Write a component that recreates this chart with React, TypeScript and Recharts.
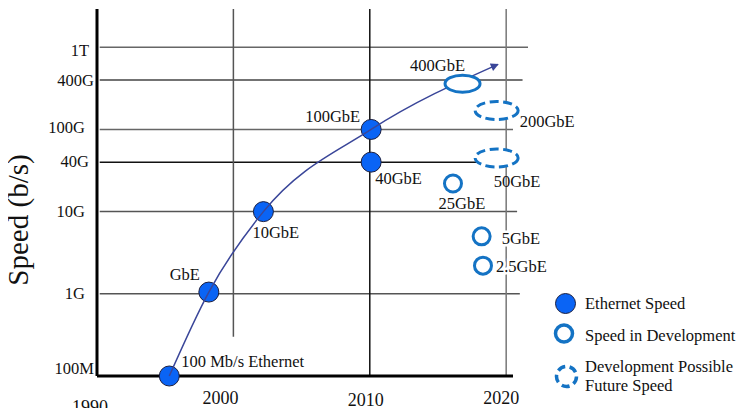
import React from "react";
import {
  ComposedChart,
  Legend,
  Line,
  ReferenceLine,
  Scatter,
  XAxis,
  YAxis,
} from "recharts";

// Ethernet speeds (year, b/s)
const ethernetNames = ["100 Mb/s Ethernet", "GbE", "10GbE", "100GbE", "40GbE"];
const ethernetYears = [1995.3, 1998.2, 2002.2, 2010.1, 2010.1];
const ethernetSpeeds = [1e8, 1.05e9, 1e10, 1e11, 4e10];

const devNames = ["400GbE", "25GbE", "5GbE", "2.5GbE"];
const devYears = [2016.8, 2016.1, 2018.2, 2018.3];
const devSpeeds = [3.6e11, 2.2e10, 5e9, 2.2e9];

const futureNames = ["200GbE", "50GbE"];
const futureYears = [2019.3, 2019.3];
const futureSpeeds = [1.7e11, 4.5e10];

const trendYears = [1995.3, 1998.2, 2002.2, 2010.1, 2019.4];
const trendSpeeds = [1e8, 1.05e9, 1e10, 1e11, 6.2e11];

const yTickValues = [1e8, 1e9, 1e10, 4e10, 1e11, 4e11, 1e12];
const yTickLabels = ["100M", "1G", "10G", "40G", "100G", "400G", "1T"];
const xTickValues = [1990, 2000, 2010, 2020];

const seriesNames = ["Ethernet Speed", "Speed in Development", "Development Possible Future Speed"];

const toPoints = (names: string[], years: number[], speeds: number[]) =>
  years.map((year, i) => ({ name: names[i], year, speed: speeds[i] }));

const ethernetPoints = toPoints(ethernetNames, ethernetYears, ethernetSpeeds);
const devPoints = toPoints(devNames, devYears, devSpeeds);
const futurePoints = toPoints(futureNames, futureYears, futureSpeeds);
const trendPoints = toPoints([], trendYears, trendSpeeds);

const Y_TOP = 2.92e12;
const FONT = "Liberation Serif, Times New Roman, serif";
const FILL_BLUE = "#0a64f5";
const DEV_BLUE = "#1473c4";

// styling: where the grid lines stop and how dark they are
const hGridStyle: Record<string, { end: number; color: string }> = {
  "1G": { end: 2021.0, color: "#555" },
  "10G": { end: 2020.8, color: "#555" },
  "40G": { end: 2020.5, color: "#111" },
  "100G": { end: 2020.5, color: "#666" },
  "400G": { end: 2021.2, color: "#444" },
  "1T": { end: 2021.6, color: "#666" },
};
const vGridStyle: Record<number, { from: number; color: string }> = {
  2000: { from: 3e8, color: "#555" },
  2010: { from: 1e8, color: "#111" },
  2020: { from: 1e8, color: "#777" },
};

const yTickOffset: Record<string, { dx: number; dy: number }> = {
  "100M": { dx: -3, dy: -8 },
  "1G": { dx: -12, dy: 0 },
  "10G": { dx: -12, dy: 0 },
  "40G": { dx: -8, dy: -1 },
  "100G": { dx: -12, dy: -2 },
  "400G": { dx: -3, dy: 1 },
  "1T": { dx: -8, dy: 3 },
};
const xTickOffset: Record<number, { dx: number; dy: number }> = {
  1990: { dx: -7, dy: 31 },
  2000: { dx: -13, dy: 22 },
  2010: { dx: -4, dy: 24 },
  2020: { dx: -5, dy: 22 },
};

const labelOffset: Record<string, { dx: number; dy: number; anchor: string; halo?: boolean }> = {
  "100 Mb/s Ethernet": { dx: 12, dy: -15, anchor: "start" },
  GbE: { dx: -24, dy: -18, anchor: "middle" },
  "10GbE": { dx: -11, dy: 21, anchor: "start" },
  "100GbE": { dx: -11, dy: -13, anchor: "end" },
  "40GbE": { dx: 4, dy: 16, anchor: "start" },
  "400GbE": { dx: -25, dy: -18, anchor: "middle" },
  "25GbE": { dx: 9, dy: 20, anchor: "middle" },
  "5GbE": { dx: 20, dy: 2, anchor: "start", halo: true },
  "2.5GbE": { dx: 13, dy: 1, anchor: "start", halo: true },
  "200GbE": { dx: 23, dy: 11, anchor: "start" },
  "50GbE": { dx: -3, dy: 24, anchor: "start" },
};

function PointLabel({ cx, cy, name }: { cx: number; cy: number; name: string }) {
  const o = labelOffset[name];
  if (!o) return null;
  return (
    <text
      x={cx + o.dx}
      y={cy + o.dy}
      textAnchor={o.anchor as any}
      dominantBaseline="central"
      fontFamily={FONT}
      fontSize={16.5}
      fill="#111"
      stroke={o.halo ? "#fff" : "none"}
      strokeWidth={o.halo ? 5 : 0}
      paintOrder="stroke"
    >
      {name}
    </text>
  );
}

const EthernetShape = (p: any) => (
  <g>
    <circle cx={p.cx} cy={p.cy} r={10} fill={FILL_BLUE} stroke="#1c1f3f" strokeWidth={1} />
    <PointLabel cx={p.cx} cy={p.cy} name={p.payload.name} />
  </g>
);

const DevShape = (p: any) => {
  const wide = p.payload.name === "400GbE";
  return (
    <g>
      <ellipse cx={p.cx} cy={p.cy} rx={wide ? 17.5 : 8.5} ry={8.5} fill="#fff" stroke={DEV_BLUE} strokeWidth={3} />
      <PointLabel cx={p.cx} cy={p.cy} name={p.payload.name} />
    </g>
  );
};

const FutureShape = (p: any) => (
  <g>
    <ellipse cx={p.cx} cy={p.cy} rx={21.5} ry={9} fill="#fff" stroke={DEV_BLUE} strokeWidth={3} strokeDasharray="9 4.5" />
    <PointLabel cx={p.cx} cy={p.cy} name={p.payload.name} />
  </g>
);

const YTick = (p: any) => {
  const i = yTickValues.indexOf(p.payload.value);
  const label = yTickLabels[i];
  const o = yTickOffset[label] || { dx: -8, dy: 0 };
  return (
    <text x={p.x + o.dx} y={p.y + o.dy} textAnchor="end" dominantBaseline="central" fontFamily={FONT} fontSize={16.5} fill="#111">
      {label}
    </text>
  );
};

const XTick = (p: any) => {
  const o = xTickOffset[p.payload.value] || { dx: 0, dy: 22 };
  return (
    <text x={p.x + o.dx} y={p.y + o.dy} textAnchor="middle" dominantBaseline="central" fontFamily={FONT} fontSize={18} fill="#111">
      {p.payload.value}
    </text>
  );
};

const YLabel = (p: any) => {
  const vb = p.viewBox || { x: 0, y: 9 };
  const x = vb.x + 28;
  const y = vb.y + 211;
  return (
    <text x={x} y={y} transform={`rotate(-90, ${x}, ${y})`} textAnchor="middle" fontFamily={FONT} fontSize={29} fill="#111">
      Speed (b/s)
    </text>
  );
};

function LegendIcon({ kind }: { kind: number }) {
  if (kind === 0) return <circle cx={0} cy={0} r={10} fill={FILL_BLUE} stroke="#1c1f3f" strokeWidth={1} />;
  if (kind === 1) return <circle cx={0} cy={0} r={8.5} fill="#fff" stroke={DEV_BLUE} strokeWidth={3.5} />;
  return <circle cx={0} cy={0} r={10} fill="#fff" stroke={DEV_BLUE} strokeWidth={3.5} strokeDasharray="8 4.5" />;
}

const legendRows = [
  { icon: [15.5, 13.5], text: [13] },
  { icon: [14, 43.5], text: [45] },
  { icon: [16.5, 86.5], text: [76, 95] },
];

const LegendContent = (props: any) => {
  const items = (props.payload || []).filter((e: any) => seriesNames.includes(e.value));
  return (
    <svg width={200} height={110} style={{ display: "block" }}>
      {items.map((e: any) => {
        const k = seriesNames.indexOf(e.value);
        const row = legendRows[k];
        const words = String(e.value).split(" ");
        const lines = row.text.length > 1 ? [words.slice(0, 2).join(" "), words.slice(2).join(" ")] : [e.value];
        return (
          <g key={e.value}>
            <g transform={`translate(${row.icon[0]}, ${row.icon[1]})`}>
              <LegendIcon kind={k} />
            </g>
            {lines.map((t: string, j: number) => (
              <text key={j} x={35} y={row.text[j]} dominantBaseline="central" fontFamily={FONT} fontSize={16.5} fill="#111">
                {t}
              </text>
            ))}
          </g>
        );
      })}
    </svg>
  );
};

export default function App() {
  return (
    <div style={{ position: "relative", width: 751, height: 416, margin: -8, background: "#fff", fontFamily: FONT }}>
      <svg width={0} height={0} style={{ position: "absolute" }}>
        <defs>
          <marker id="arrowHead" viewBox="0 0 10 10" refX={9} refY={5} markerWidth={11} markerHeight={8} markerUnits="userSpaceOnUse" orient="auto">
            <path d="M0,0 L10,5 L0,10 z" fill="#3a4699" />
          </marker>
        </defs>
      </svg>
      <ComposedChart width={751} height={416} margin={{ top: 9, right: 238, bottom: 0, left: 0 }}>
        <XAxis
          dataKey="year"
          type="number"
          domain={[1990, 2020.5]}
          ticks={xTickValues}
          interval={0}
          tick={XTick}
          tickLine={false}
          tickSize={0}
          tickMargin={0}
          height={40}
          axisLine={{ stroke: "#000", strokeWidth: 3 }}
        />
        <YAxis
          type="number"
          scale="log"
          domain={[1e8, Y_TOP]}
          ticks={yTickValues}
          interval={0}
          tick={YTick}
          tickLine={false}
          tickSize={0}
          tickMargin={0}
          width={97}
          axisLine={{ stroke: "#000", strokeWidth: 3 }}
          label={<YLabel />}
        />
        {yTickValues.slice(1).map((v, i) => {
          const s = hGridStyle[yTickLabels[i + 1]];
          return (
            <ReferenceLine
              key={"h" + v}
              segment={[{ x: 1990.2, y: v }, { x: s.end, y: v }]}
              stroke={s.color}
              strokeWidth={1.5}
              ifOverflow="visible"
              zIndex={-50}
            />
          );
        })}
        {xTickValues.slice(1).map((v) => {
          const s = vGridStyle[v];
          return (
            <ReferenceLine
              key={"v" + v}
              segment={[{ x: v, y: s.from }, { x: v, y: Y_TOP }]}
              stroke={s.color}
              strokeWidth={1.5}
              ifOverflow="visible"
              zIndex={-50}
            />
          );
        })}
        <Scatter name={seriesNames[0]} data={ethernetPoints} dataKey="speed" fill={FILL_BLUE} shape={EthernetShape} isAnimationActive={false} zIndex={600} />
        <Line
          data={trendPoints}
          dataKey="speed"
          type="monotoneX"
          stroke="#3a4699"
          strokeWidth={1.5}
          dot={false}
          activeDot={false}
          legendType="none"
          markerEnd="url(#arrowHead)"
          isAnimationActive={false}
          zIndex={650}
        />
        <Scatter name={seriesNames[1]} data={devPoints} dataKey="speed" fill={DEV_BLUE} shape={DevShape} isAnimationActive={false} zIndex={700} />
        <Scatter name={seriesNames[2]} data={futurePoints} dataKey="speed" fill={DEV_BLUE} shape={FutureShape} isAnimationActive={false} zIndex={700} />
        <Legend
          layout="vertical"
          align="center"
          verticalAlign="middle"
          content={<LegendContent />}
          wrapperStyle={{ position: "absolute", left: 550, top: 290, width: 200, height: 110 }}
        />
      </ComposedChart>
    </div>
  );
}
